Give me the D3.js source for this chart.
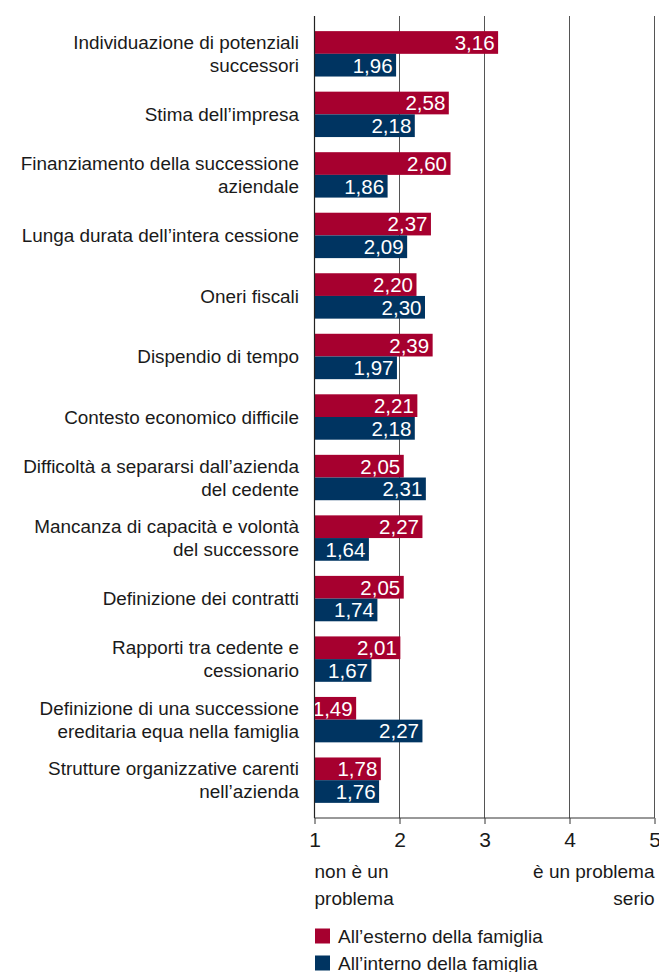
<!DOCTYPE html>
<html>
<head>
<meta charset="utf-8">
<script src="https://cdn.jsdelivr.net/npm/d3@7"></script>
<style>
  html, body { margin: 0; padding: 0; background: #fff; }
  svg { display: block; }
  text { font-family: "Liberation Sans", Arial, sans-serif; }
</style>
</head>
<body>
<svg id="chart" width="659" height="972"></svg>
<script>
// Category labels (line-broken as displayed)
const categories = [
  ["Individuazione di potenziali", "successori"],
  ["Stima dell\u2019impresa"],
  ["Finanziamento della successione", "aziendale"],
  ["Lunga durata dell\u2019intera cessione"],
  ["Oneri fiscali"],
  ["Dispendio di tempo"],
  ["Contesto economico difficile"],
  ["Difficolt\u00e0 a separarsi dall\u2019azienda", "del cedente"],
  ["Mancanza di capacit\u00e0 e volont\u00e0", "del successore"],
  ["Definizione dei contratti"],
  ["Rapporti tra cedente e", "cessionario"],
  ["Definizione di una successione", "ereditaria equa nella famiglia"],
  ["Strutture organizzative carenti", "nell\u2019azienda"]
];
const esterno = [3.16, 2.58, 2.60, 2.37, 2.20, 2.39, 2.21, 2.05, 2.27, 2.05, 2.01, 1.49, 1.78];
const interno = [1.96, 2.18, 1.86, 2.09, 2.30, 1.97, 2.18, 2.31, 1.64, 1.74, 1.67, 2.27, 1.76];
const ticks = [1, 2, 3, 4, 5];
const seriesNames = ["All\u2019esterno della famiglia", "All\u2019interno della famiglia"];
const colors = ["#a6002f", "#003461"];

const svg = d3.select("#chart");
const x = d3.scaleLinear().domain([1, 5]).range([314.5, 654.5]);
const keys = categories.map((d, i) => i);
const y = d3.scaleBand().domain(keys).range([16, 818]).paddingInner(0.25).paddingOuter(0.25);
const half = y.bandwidth() / 2;
const fmt = v => d3.format(".2f")(v).replace(".", ",");

// Grid lines
svg.append("g").selectAll("line").data(ticks.slice(1)).join("line")
  .attr("x1", d => x(d)).attr("x2", d => x(d))
  .attr("y1", 16).attr("y2", 818)
  .attr("stroke", "#555").attr("stroke-width", 1);

// Bars
const series = [esterno, interno];
series.forEach((vals, s) => {
  const g = svg.append("g");
  g.selectAll("rect").data(vals).join("rect")
    .attr("x", x(1))
    .attr("y", (d, i) => y(i) + s * half)
    .attr("width", d => x(d) - x(1))
    .attr("height", half)
    .attr("fill", colors[s]);
  g.selectAll("text").data(vals).join("text")
    .attr("x", d => x(d) - 3.5)
    .attr("y", (d, i) => y(i) + s * half + half / 2)
    .attr("dy", "0.36em")
    .attr("text-anchor", "end")
    .attr("fill", "#fff")
    .attr("font-size", 20.5)
    .text(d => fmt(d));
});

// Category labels
const lab = svg.append("g");
categories.forEach((lines, i) => {
  const cy = y(i) + y.bandwidth() / 2;
  const lh = 23;
  const t = lab.append("text")
    .attr("text-anchor", "end")
    .attr("font-size", 18.9)
    .attr("fill", "#1a1a1a");
  lines.forEach((ln, j) => {
    t.append("tspan").attr("x", 299)
      .attr("y", cy + (j - (lines.length - 1) / 2) * lh)
      .attr("dy", "0.35em")
      .text(ln);
  });
});

// Left axis line
svg.append("line").attr("x1", x(1)).attr("x2", x(1)).attr("y1", 16).attr("y2", 818)
  .attr("stroke", "#222").attr("stroke-width", 1.2);

// Bottom axis
const axis = svg.append("g").attr("transform", "translate(0,818)")
  .call(d3.axisBottom(x).tickValues(ticks).tickSize(6).tickPadding(8).tickFormat(d3.format("d")));
axis.select(".domain").attr("stroke", "#333").attr("d", `M${x(1)},0H${x(5)}`);
axis.selectAll(".tick line").attr("stroke", "#333");
axis.selectAll(".tick text").attr("font-size", 21).attr("fill", "#1a1a1a")
  .attr("font-family", "Liberation Sans, Arial, sans-serif");

// Scale-end descriptions
const endLabels = svg.append("g").attr("font-size", 19).attr("fill", "#1a1a1a");
endLabels.append("text").attr("x", x(1)).attr("y", 878).text("non \u00e8 un");
endLabels.append("text").attr("x", x(1)).attr("y", 905).text("problema");
endLabels.append("text").attr("x", x(5)).attr("y", 878).attr("text-anchor", "end").text("\u00e8 un problema");
endLabels.append("text").attr("x", x(5)).attr("y", 905).attr("text-anchor", "end").text("serio");

// Legend
const legend = svg.append("g");
seriesNames.forEach((name, i) => {
  const ly = 936 + i * 27;
  legend.append("rect").attr("x", 315).attr("y", ly - 7.5).attr("width", 15).attr("height", 15).attr("fill", colors[i]);
  legend.append("text").attr("x", 338).attr("y", ly).attr("dy", "0.35em")
    .attr("font-size", 19).attr("fill", "#1a1a1a").text(name);
});
</script>
</body>
</html>
